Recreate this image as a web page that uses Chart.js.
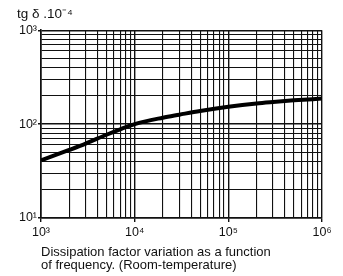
<!DOCTYPE html>
<html>
<head>
<meta charset="utf-8">
<script src="https://cdn.jsdelivr.net/npm/chart.js@4/dist/chart.umd.min.js"></script>
<style>
	html, body { margin: 0; padding: 0; background: #fff; }
	#wrap { width: 343px; height: 276px; }
</style>
</head>
<body>
<div id="wrap"><canvas id="chart-tgdelta"></canvas></div>
<script>
// values (frequency in Hz, tg delta in 10^-4)
var frequencies = [1e3, 2e3, 3e3, 5e3, 7e3, 1e4, 2e4, 3e4, 5e4, 1e5, 2e5, 3e5, 5e5, 1e6];
var tgDelta = [41, 53, 62, 77, 88, 100, 117, 126, 138, 153, 166, 172, 179, 187];

var xDecades = [1e3, 1e4, 1e5, 1e6];
var xDecadeLabels = ["10³", "10⁴", "10⁵", "10⁶"];
var yDecades = [1e1, 1e2, 1e3];
var yDecadeLabels = ["10¹", "10²", "10³"];
var minorSteps = [2, 3, 4, 5, 6, 7, 8, 9];

var axisTitle = "tg δ .10⁻⁴";
var caption = ["Dissipation factor variation as a function", "of frequency. (Room-temperature)"];

var fontFamily = "'Liberation Sans', Arial, sans-serif";
var ink = "#111";

function BuildLogTicks(decades)
{
	let values = [];
	decades.forEach(function(d, i)
	{
		values.push(d);
		if (i < decades.length - 1)
		{
			minorSteps.forEach(function(m) { values.push(d * m); });
		}
	});
	return values.map(function(v) { return { value: v }; });
}

function DecadeLabel(value, decades, labels)
{
	let i = decades.indexOf(value);
	return i >= 0 ? labels[i] : "";
}

function LogAxis(decades, labels, size, isX)
{
	return {
		type: "logarithmic",
		min: decades[0],
		max: decades[decades.length - 1],
		afterBuildTicks: function(scale) { scale.ticks = BuildLogTicks(decades); },
		afterFit: function(scale)
		{
			if (isX) { scale.height = size; } else { scale.width = size; }
		},
		ticks: {
			autoSkip: false,
			maxRotation: 0,
			padding: isX ? 3 : 1,
			color: ink,
			font: { family: fontFamily, size: 12.5 },
			callback: function(value) { return DecadeLabel(value, decades, labels); }
		},
		grid: {
			color: ink,
			lineWidth: function(ctx) { return decades.indexOf(ctx.tick.value) >= 0 ? 1.4 : 1.1; },
			tickLength: isX ? 4 : 3,
			tickColor: function(ctx) { return decades.indexOf(ctx.tick.value) >= 0 ? ink : "rgba(0,0,0,0)"; }
		},
		border: { color: ink, width: 1.6 }
	};
}

var points = frequencies.map(function(f, i) { return { x: f, y: tgDelta[i] }; });

new Chart("chart-tgdelta", {
	type: "line",
	data: {
		datasets: [{
			data: points,
			borderColor: "#000",
			borderWidth: 4,
			pointRadius: 0,
			cubicInterpolationMode: "monotone",
			fill: false
		}]
	},
	options: {
		responsive: true,
		maintainAspectRatio: false,
		devicePixelRatio: 1,
		animation: false,
		layout: { padding: { left: 17, right: 21, top: 0, bottom: 0 } },
		scales: {
			x: LogAxis(xDecades, xDecadeLabels, 22, true),
			y: LogAxis(yDecades, yDecadeLabels, 24, false)
		},
		plugins: {
			legend: { display: false },
			tooltip: { enabled: false },
			title: {
				display: true,
				text: axisTitle,
				align: "start",
				position: "top",
				color: ink,
				font: { family: fontFamily, size: 13.5, weight: "normal" },
				padding: { top: 6, bottom: 8 }
			},
			subtitle: {
				display: true,
				text: caption,
				align: "start",
				position: "bottom",
				fullSize: false,
				color: ink,
				font: { family: fontFamily, size: 13, lineHeight: 1 },
				padding: { top: 6, bottom: 4 }
			}
		}
	}
});
</script>
</body>
</html>
